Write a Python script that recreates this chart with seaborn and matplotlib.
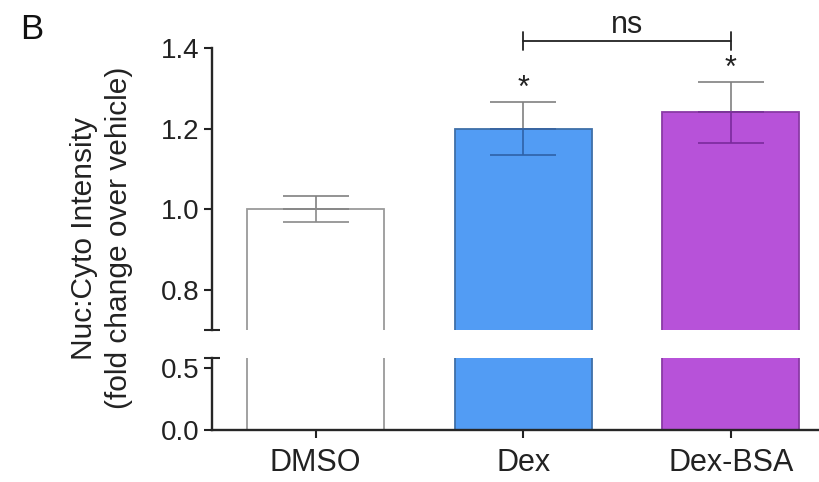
import numpy as np
import pandas as pd
import matplotlib
matplotlib.use("Agg")
import matplotlib.pyplot as plt
import seaborn as sns

# ------------------------------------------------------------
# data
# ------------------------------------------------------------
groups = ["DMSO", "Dex", "Dex-BSA"]
means = [1.00, 1.20, 1.24]
sem = [0.033, 0.066, 0.076]
bar_colors = ["#ffffff", "#529cf4", "#b752d9"]
edge_colors = ["#9a9a9a", "#3f6fa8", "#8a3aa6"]
inner_err_colors = ["#8a8a8a", "#2e62a8", "#7a2a9c"]
stars = ["", "*", "*"]

upper_ticks = [0.8, 1.0, 1.2, 1.4]
lower_ticks = [0.0, 0.5]

df = pd.DataFrame({"group": groups, "value": means})

sns.set_style("ticks")
plt.rcParams["font.family"] = ["Liberation Sans", "DejaVu Sans"]

TXT = "#222222"

fig = plt.figure(figsize=(8.2, 4.82), dpi=100)
ax_top = fig.add_axes([0.2585, 0.3154, 0.7415, 0.585])
ax_bot = fig.add_axes([0.2585, 0.1079, 0.7415, 0.1494])

for ax in (ax_top, ax_bot):
    sns.barplot(data=df, x="group", y="value", hue="group", palette=bar_colors,
                saturation=1, errorbar=None, legend=False, width=0.66, ax=ax)
    for patch, ec in zip(ax.patches, edge_colors):
        patch.set_edgecolor(ec)
        patch.set_linewidth(1.3)
    ax.set_xlim(-0.5, 2.43)
    ax.set_xlabel("")
    ax.set_ylabel("")
    for side in ("top", "right"):
        ax.spines[side].set_visible(False)
    ax.spines["left"].set_linewidth(1.7)
    ax.spines["bottom"].set_linewidth(1.7)
    ax.tick_params(axis="both", which="major", length=6, width=1.5,
                   labelsize=20, colors=TXT, pad=3)

# upper panel
ax_top.set_ylim(0.70, 1.4)
ax_top.set_yticks(upper_ticks)
ax_top.set_yticklabels([f"{t:.1f}" for t in upper_ticks])
ax_top.set_yticks([0.70], minor=True)
ax_top.tick_params(axis="y", which="minor", direction="inout", length=12, width=1.5)
ax_top.spines["bottom"].set_visible(False)
ax_top.tick_params(axis="x", bottom=False, labelbottom=False)

# lower panel
ax_bot.set_ylim(0.0, 0.58)
ax_bot.set_yticks(lower_ticks)
ax_bot.set_yticklabels([f"{t:.1f}" for t in lower_ticks])
ax_bot.set_yticks([0.58], minor=True)
ax_bot.tick_params(axis="y", which="minor", direction="inout", length=12, width=1.5)
ax_bot.tick_params(axis="x", labelsize=22, pad=7)

# error bars: grey above the bar top, darker inside the bar
x = np.arange(len(groups))
zeros = np.zeros(len(groups))
ax_top.errorbar(x, means, yerr=[zeros, sem], fmt="none", ecolor="#808080",
                elinewidth=1.2, capsize=24, capthick=1.2)
for i in range(len(groups)):
    ax_top.errorbar(x[i], means[i], yerr=[[sem[i]], [0]], fmt="none",
                    ecolor=inner_err_colors[i], elinewidth=1.2, capsize=24, capthick=1.2)
    if stars[i]:
        ax_top.text(x[i], means[i] + sem[i] + 0.032, stars[i], ha="center", va="center",
                    fontsize=22, color=TXT)

# ns bracket between Dex and Dex-BSA
yb = 1.418
ax_top.plot([1, 2], [yb, yb], color=TXT, lw=1.3, clip_on=False)
for xe in (1, 2):
    ax_top.plot([xe, xe], [yb - 0.022, yb + 0.022], color=TXT, lw=1.3, clip_on=False)
ax_top.text(1.5, 1.458, "ns", ha="center", va="center", fontsize=22, color=TXT)

fig.text(0.124, 0.506, "Nuc:Cyto Intensity\n(fold change over vehicle)", rotation=90,
         ha="center", va="center", fontsize=21.5, color=TXT, linespacing=1.3)
fig.text(0.024, 0.972, "B", ha="left", va="top", fontsize=25, color="#111111")

fig.savefig("out.png", dpi=100)
